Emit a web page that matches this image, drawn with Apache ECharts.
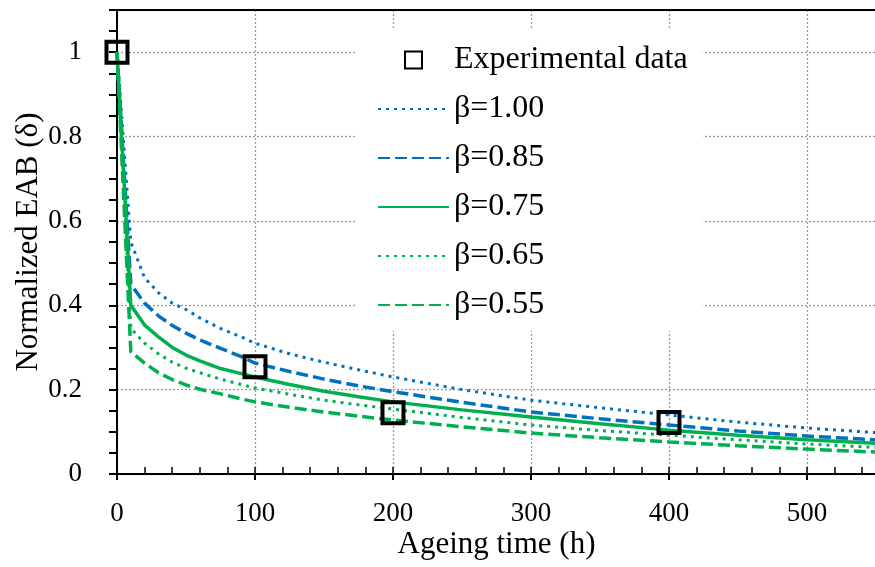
<!DOCTYPE html>
<html>
<head>
<meta charset="utf-8">
<style>html,body{margin:0;padding:0;background:#fff}#c{width:875px;height:567px}</style>
<script src="https://cdn.jsdelivr.net/npm/echarts@6/dist/echarts.min.js"></script>
</head>
<body>
<div id="c"></div>
<script>
// Ageing time (h) grid of the model curves
const timeH = [0, 10, 20, 30, 40, 50, 60, 75, 90, 100, 125, 150, 175, 200, 250, 300, 350, 400, 450, 500, 550];
const beta100 = [1, 0.55, 0.465, 0.43, 0.405, 0.39, 0.37, 0.345, 0.325, 0.31, 0.285, 0.265, 0.247, 0.230, 0.200, 0.175, 0.157, 0.140, 0.123, 0.109, 0.098];
const beta085 = [1, 0.45, 0.405, 0.375, 0.352, 0.334, 0.318, 0.298, 0.278, 0.263, 0.243, 0.225, 0.209, 0.195, 0.170, 0.147, 0.131, 0.116, 0.102, 0.090, 0.081];
const beta075 = [1, 0.40, 0.353, 0.325, 0.300, 0.282, 0.268, 0.250, 0.238, 0.230, 0.212, 0.196, 0.183, 0.171, 0.152, 0.135, 0.119, 0.104, 0.092, 0.081, 0.073];
const beta065 = [1, 0.345, 0.31, 0.285, 0.265, 0.251, 0.240, 0.225, 0.212, 0.204, 0.189, 0.175, 0.164, 0.154, 0.134, 0.116, 0.103, 0.092, 0.081, 0.071, 0.063];
const beta055 = [1, 0.29, 0.263, 0.24, 0.224, 0.211, 0.201, 0.19, 0.178, 0.171, 0.158, 0.147, 0.137, 0.128, 0.112, 0.097, 0.086, 0.076, 0.067, 0.059, 0.052];
const expTime = [0, 100, 200, 400];
const expValue = [1, 0.254, 0.145, 0.122];
const seriesNames = ['β=1.00', 'β=0.85', 'β=0.75', 'β=0.65', 'β=0.55'];
const expName = 'Experimental data';

const FONT = "'Liberation Serif', 'Times New Roman', 'DejaVu Serif', serif";
const BLUE = '#0070C0', GREEN = '#00B050';
const pairs = (xs, ys) => xs.map((x, i) => [x, ys[i]]);
const dotted = [3, 5], dashed = [12, 5];

function lineSeries(name, ys, color, type, width) {
  return {
    name, type: 'line', data: pairs(timeH, ys), symbol: 'circle', showSymbol: false, smooth: false,
    xAxisIndex: 0, yAxisIndex: 0, z: 3,
    lineStyle: { color, width, type },
    itemStyle: { color: 'rgba(0,0,0,0)', borderWidth: 0 }
  };
}
const grid = '#9a9a9a';
const option = {
  animation: false,
  backgroundColor: '#fff',
  textStyle: { fontFamily: FONT, color: '#000' },
  grid: { left: 117, right: -1, top: 10, bottom: 93, containLabel: false, outerBoundsMode: 'none' },
  legend: {
    orient: 'vertical', left: 357, top: 29,
    backgroundColor: '#fff',
    padding: [15, 15, 10, 20],
    itemWidth: 71, itemHeight: 17, itemGap: 17,
    textStyle: { fontFamily: FONT, fontSize: 32, color: '#000', lineHeight: 31 },
    data: [
      { name: expName, icon: 'path://M0,0H10V10H0Z',
        itemStyle: { borderWidth: 2, borderColor: '#000', color: 'rgba(0,0,0,0)', opacity: 1 } },
      ...seriesNames.map(n => ({ name: n }))
    ]
  },
  xAxis: [
    {
      type: 'value', min: 0, max: 550, interval: 100, position: 'bottom',
      name: 'Ageing time (h)', nameLocation: 'middle', nameGap: 55, nameMoveOverlap: false,
      nameTextStyle: { fontFamily: FONT, fontSize: 31, color: '#000' },
      axisLine: { show: true, lineStyle: { color: '#000', width: 2 } },
      axisTick: { show: true, inside: false, length: 6, lineStyle: { color: '#000', width: 2 } },
      axisLabel: { fontFamily: FONT, fontSize: 27, color: '#000', margin: 26, showMaxLabel: false },
      splitLine: { show: true, lineStyle: { color: grid, width: 1.3, type: [2, 2] } }
    },
    {
      type: 'value', min: 0, max: 550, interval: 20, position: 'bottom',
      axisLine: { show: false },
      axisTick: { show: true, inside: true, length: 7, lineStyle: { color: '#000', width: 1.5 } },
      axisLabel: { show: false }, splitLine: { show: false }
    },
    {
      type: 'value', min: 0, max: 550, position: 'top',
      axisLine: { show: true, lineStyle: { color: '#000', width: 2 } },
      axisTick: { show: false }, axisLabel: { show: false }, splitLine: { show: false }
    }
  ],
  yAxis: [
    {
      type: 'value', min: 0, max: 1.1, interval: 0.2, position: 'left',
      name: 'Normalized EAB (δ)', nameLocation: 'middle', nameGap: 73, nameMoveOverlap: false,
      nameTextStyle: { fontFamily: FONT, fontSize: 31, color: '#000' },
      axisLine: { show: true, lineStyle: { color: '#000', width: 2 } },
      axisTick: { show: false },
      axisLabel: { fontFamily: FONT, fontSize: 27, color: '#000', margin: 35, showMaxLabel: false },
      splitLine: { show: true, lineStyle: { color: grid, width: 1.3, type: [2, 2] } }
    },
    {
      type: 'value', min: 0, max: 1.1, interval: 0.05, position: 'left',
      axisLine: { show: false },
      axisTick: { show: true, inside: false, length: 8, lineStyle: { color: '#000', width: 2 } },
      axisLabel: { show: false }, splitLine: { show: false }
    }
  ],
  series: [
    {
      name: expName, type: 'scatter', data: pairs(expTime, expValue),
      xAxisIndex: 0, yAxisIndex: 0, z: 6,
      symbol: 'rect', symbolSize: 21,
      itemStyle: { color: 'rgba(0,0,0,0)', borderColor: '#000', borderWidth: 4, opacity: 1 }
    },
    lineSeries(seriesNames[0], beta100, BLUE, dotted, 3),
    lineSeries(seriesNames[1], beta085, BLUE, dashed, 3.5),
    lineSeries(seriesNames[2], beta075, GREEN, 'solid', 3.5),
    lineSeries(seriesNames[3], beta065, GREEN, dotted, 3),
    lineSeries(seriesNames[4], beta055, GREEN, dashed, 3.5)
  ]
};
const chart = echarts.init(document.getElementById('c'), null, { renderer: 'canvas' });
chart.setOption(option);
</script>
</body>
</html>
